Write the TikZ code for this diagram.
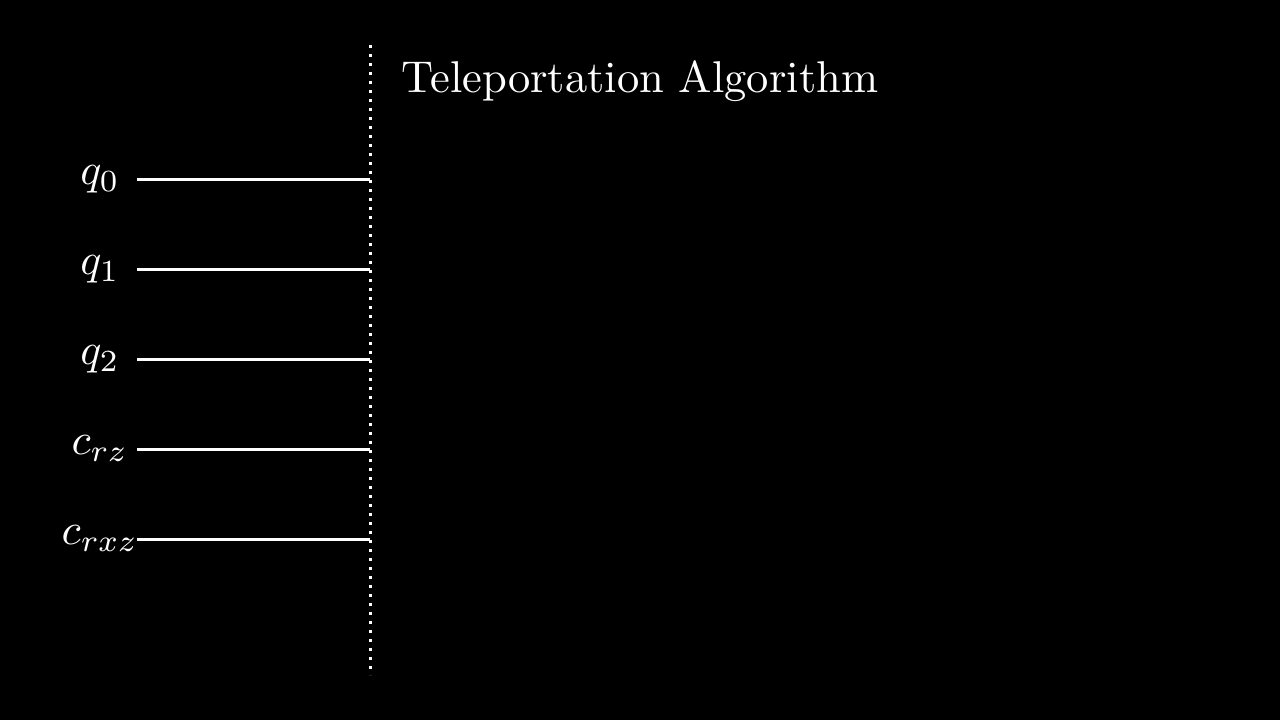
\documentclass[tikz,border=0pt]{standalone}
\usepackage{amsmath}

\begin{document}
\begin{tikzpicture}[x=1pt,y=1pt,
    wire/.style={white,line width=3pt},
    barrier/.style={white,line width=3pt,dash pattern=on 3pt off 6pt},
    reglabel/.style={white,anchor=base,inner sep=0pt,scale=4.4}]

    \fill[black] (0,0) rectangle (1280,720);
    \useasboundingbox (0,0) rectangle (1280,720);

    % barrier
    \coordinate (btop) at (370,675);
    \coordinate (bbot) at (370,45);
    \draw[barrier] (btop) -- (bbot);

    \node[white,anchor=base west,inner sep=0pt,scale=4.45] (title) at (401,627) {Teleportation Algorithm};

    % registers
    \foreach \name/\lab/\y in {q0/q_0/540, q1/q_1/450, q2/q_2/360, crz/c_{rz}/270, crxz/c_{rxz}/180} {
        \node[reglabel] (\name) at (100,\y-5) {$\lab$};
        \coordinate (\name s) at (137,\y);
        \coordinate (\name e) at (370,\y);
        \draw[wire] (\name s) -- (\name e);
    }

\end{tikzpicture}
\end{document}
